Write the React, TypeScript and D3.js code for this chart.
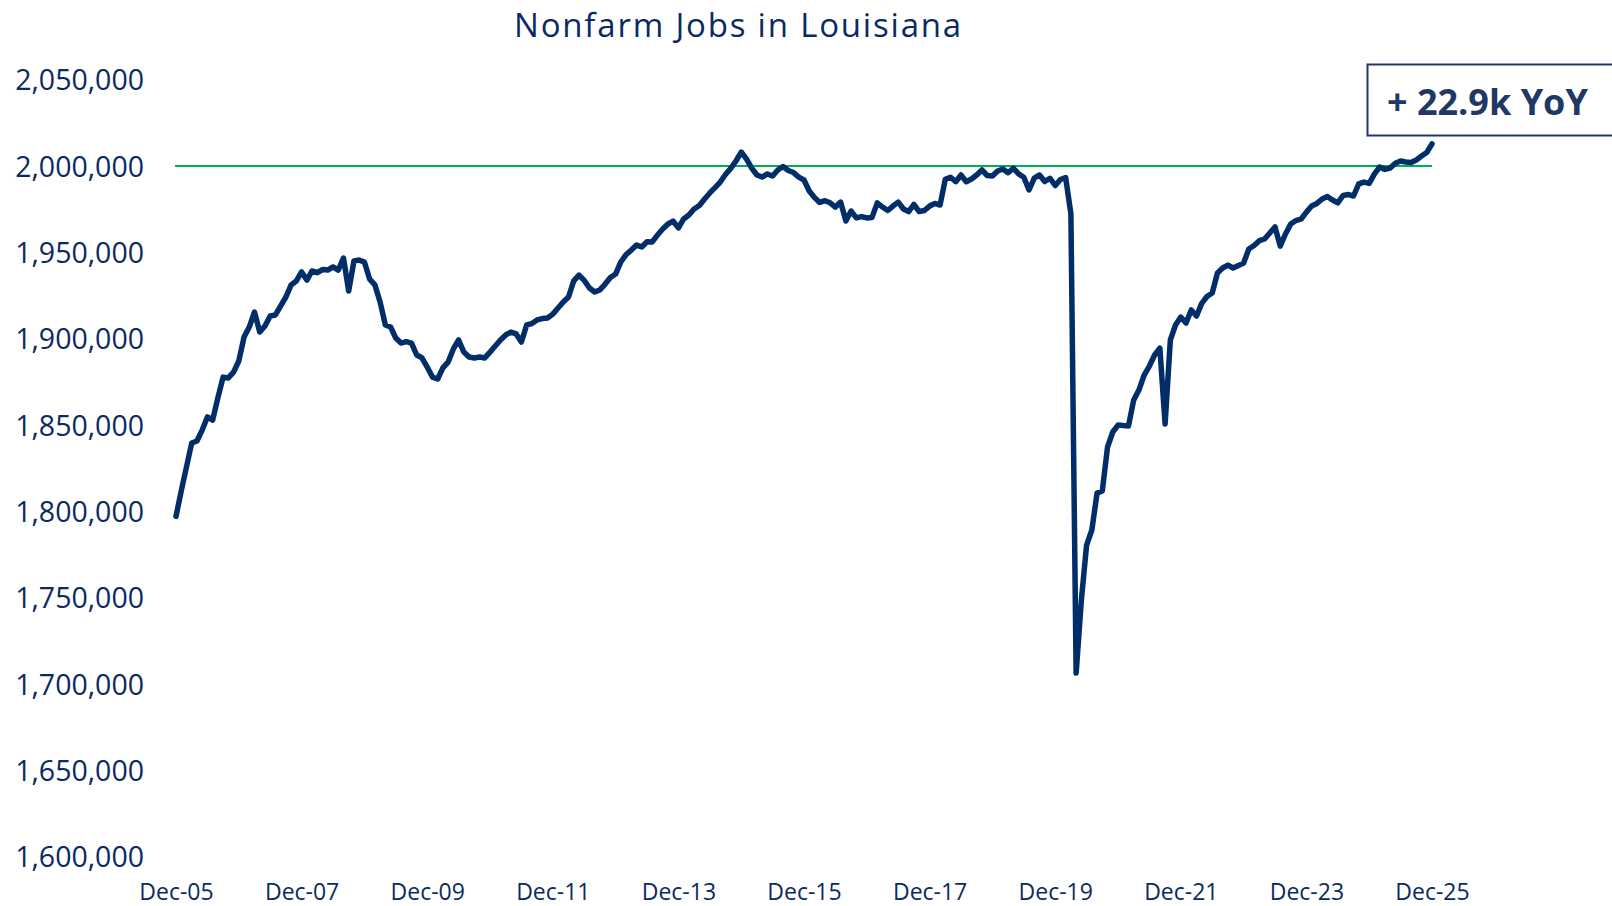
import React, { useRef, useEffect } from 'react';
import * as d3 from 'd3';

// Louisiana total nonfarm jobs, thousands, monthly Dec-05 .. Dec-25
const jobs = [
  1797.0, 1811.7, 1825.6, 1839.5, 1840.7, 1847.0, 1854.6, 1852.8, 1865.6, 1877.7, 1877.2, 1880.6,
  1887.0, 1900.9, 1906.7, 1915.4, 1903.8, 1907.3, 1913.1, 1913.7, 1918.9, 1924.1, 1931.1, 1933.4,
  1938.6, 1933.9, 1939.2, 1938.2, 1940.0, 1939.7, 1941.5, 1939.7, 1946.7, 1927.6, 1945.0, 1945.5,
  1944.4, 1934.5, 1931.1, 1921.2, 1907.9, 1906.7, 1900.3, 1897.4, 1898.2, 1897.4, 1890.5, 1888.8,
  1883.5, 1877.7, 1876.6, 1883.0, 1886.4, 1894.0, 1899.2, 1892.2, 1889.3, 1888.8, 1889.3, 1888.8,
  1892.2, 1895.7, 1899.2, 1902.1, 1903.8, 1902.7, 1898.0, 1907.9, 1908.7, 1910.8, 1911.6, 1911.9,
  1914.2, 1917.7, 1921.2, 1924.1, 1933.4, 1936.8, 1933.7, 1929.3, 1927.0, 1928.2, 1931.6, 1935.4,
  1937.4, 1944.4, 1948.7, 1951.3, 1954.2, 1953.1, 1956.1, 1956.0, 1960.0, 1963.5, 1966.4, 1968.1,
  1964.1, 1969.3, 1971.6, 1975.1, 1977.1, 1980.9, 1984.4, 1987.5, 1990.7, 1995.1, 1998.6, 2002.9,
  2008.1, 2004.1, 1998.8, 1994.8, 1993.6, 1995.4, 1994.2, 1997.7, 1999.7, 1997.4, 1996.2, 1993.6,
  1991.9, 1985.5, 1981.7, 1978.9, 1979.9, 1978.7, 1976.2, 1979.1, 1968.1, 1973.9, 1969.9, 1970.7,
  1969.9, 1970.2, 1978.6, 1976.2, 1974.2, 1976.8, 1979.1, 1975.1, 1973.6, 1977.7, 1973.6, 1974.2,
  1976.8, 1978.3, 1977.4, 1992.3, 1993.5, 1990.9, 1994.8, 1990.9, 1992.5, 1994.8, 1997.7, 1994.5,
  1994.2, 1997.1, 1998.3, 1996.1, 1998.7, 1995.4, 1993.5, 1986.1, 1993.0, 1994.8, 1991.0, 1992.9,
  1988.7, 1992.2, 1993.3, 1972.2, 1706.2, 1748.5, 1780.4, 1789.1, 1810.5, 1811.7, 1837.2, 1845.9,
  1849.9, 1849.6, 1849.4, 1864.4, 1870.2, 1878.9, 1884.1, 1890.5, 1894.5, 1850.5, 1899.2, 1907.9,
  1912.5, 1909.0, 1916.6, 1913.1, 1920.4, 1924.4, 1926.4, 1938.0, 1940.9, 1942.6, 1940.9, 1942.3,
  1943.8, 1951.9, 1953.9, 1956.7, 1957.7, 1961.2, 1964.7, 1953.6, 1960.6, 1966.4, 1968.4, 1969.3,
  1973.3, 1976.8, 1978.3, 1980.9, 1982.3, 1980.3, 1978.6, 1982.9, 1983.5, 1982.6, 1989.6, 1990.7,
  1989.9, 1995.4, 1999.4, 1998.0, 1998.8, 2001.6, 2002.9, 2002.3, 2002.0, 2003.5, 2005.8, 2007.8,
  2012.8,
];

const startMonth = new Date(2005, 11, 1);
const yTicks = [1600000, 1650000, 1700000, 1750000, 1800000, 1850000, 1900000, 1950000, 2000000, 2050000];
const xTickLabels = ['Dec-05', 'Dec-07', 'Dec-09', 'Dec-11', 'Dec-13', 'Dec-15', 'Dec-17', 'Dec-19', 'Dec-21', 'Dec-23', 'Dec-25'];
const referenceLevel = 2000000;
const titleText = 'Nonfarm Jobs in Louisiana';
const calloutText = '+ 22.9k YoY';

const W = 1612;
const H = 906;
const FONT = "'Open Sans', 'Noto Sans', sans-serif";
const NAVY = '#0b2a62';

const App: React.FC = () => {
  const svgRef = useRef<SVGSVGElement>(null);

  useEffect(() => {
    const svgEl = svgRef.current;
    if (!svgEl) return;
    const svg = d3.select(svgEl);
    svg.selectAll('*').remove();

    const fmtMonth = d3.timeFormat('%b-%y');
    const months = jobs.map((_, i) => fmtMonth(d3.timeMonth.offset(startMonth, i)));
    const data = jobs.map((v, i) => ({ month: months[i], value: v * 1000 }));

    /* ---------- scales ---------- */
    const x = d3.scalePoint<string>().domain(months).range([176, 1432]);
    const y = d3.scaleLinear().domain([1600000, 2050000]).range([856.4, 79.7]);

    /* ---------- title ---------- */
    svg
      .append('text')
      .attr('x', 738.5)
      .attr('y', 37)
      .attr('text-anchor', 'middle')
      .style('font-family', FONT)
      .style('font-size', '33px')
      .style('letter-spacing', '1.8px')
      .style('fill', '#0a2a66')
      .text(titleText);

    /* ---------- y axis ---------- */
    const yAxis = d3
      .axisLeft(y)
      .tickValues(yTicks)
      .tickFormat((d) => d3.format(',')(d as number))
      .tickSize(0)
      .tickPadding(0);
    const gy = svg.append('g').attr('transform', 'translate(144,0)').call(yAxis);
    gy.select('.domain').remove();
    gy.selectAll('text')
      .attr('dy', '0.36em')
      .style('font-family', FONT)
      .style('font-size', '28.5px')
      .style('fill', NAVY);

    /* ---------- x axis ---------- */
    const xAxis = d3
      .axisBottom(x)
      .tickValues(xTickLabels)
      .tickSize(0)
      .tickPadding(0);
    const gx = svg.append('g').attr('transform', 'translate(0,884)').call(xAxis);
    gx.select('.domain').remove();
    gx.selectAll('text')
      .attr('dy', '0.7em')
      .style('font-family', FONT)
      .style('font-size', '23px')
      .style('fill', NAVY);

    /* ---------- 2,000,000 reference line ---------- */
    svg
      .append('line')
      .attr('x1', x(months[0])! - 1)
      .attr('x2', x(months[months.length - 1])!)
      .attr('y1', y(referenceLevel))
      .attr('y2', y(referenceLevel))
      .attr('stroke', '#00b050')
      .attr('stroke-width', 2.2);

    /* ---------- jobs line ---------- */
    svg
      .append('clipPath')
      .attr('id', 'plot-clip')
      .append('rect')
      .attr('x', 173)
      .attr('y', 0)
      .attr('width', W - 173)
      .attr('height', H);

    const line = d3
      .line<{ month: string; value: number }>()
      .x((d) => x(d.month)!)
      .y((d) => y(d.value));

    svg
      .append('path')
      .datum(data)
      .attr('clip-path', 'url(#plot-clip)')
      .attr('fill', 'none')
      .attr('stroke', '#012d69')
      .attr('stroke-width', 5.5)
      .attr('stroke-linejoin', 'round')
      .attr('stroke-linecap', 'round')
      .attr('d', line);

    /* ---------- YoY callout ---------- */
    svg
      .append('rect')
      .attr('x', 1367.5)
      .attr('y', 64.5)
      .attr('width', 270)
      .attr('height', 71)
      .attr('fill', '#ffffff')
      .attr('stroke', '#1f3864')
      .attr('stroke-width', 2);

    svg
      .append('text')
      .attr('x', 1387)
      .attr('y', 115)
      .style('font-family', FONT)
      .style('font-weight', 700)
      .style('font-size', '36px')
      .style('fill', '#1f3864')
      .text(calloutText);
  }, []);

  return (
    <svg
      ref={svgRef}
      width={W}
      height={H}
      style={{ position: 'absolute', left: 0, top: 0, display: 'block', background: '#ffffff' }}
    />
  );
};

export default App;
